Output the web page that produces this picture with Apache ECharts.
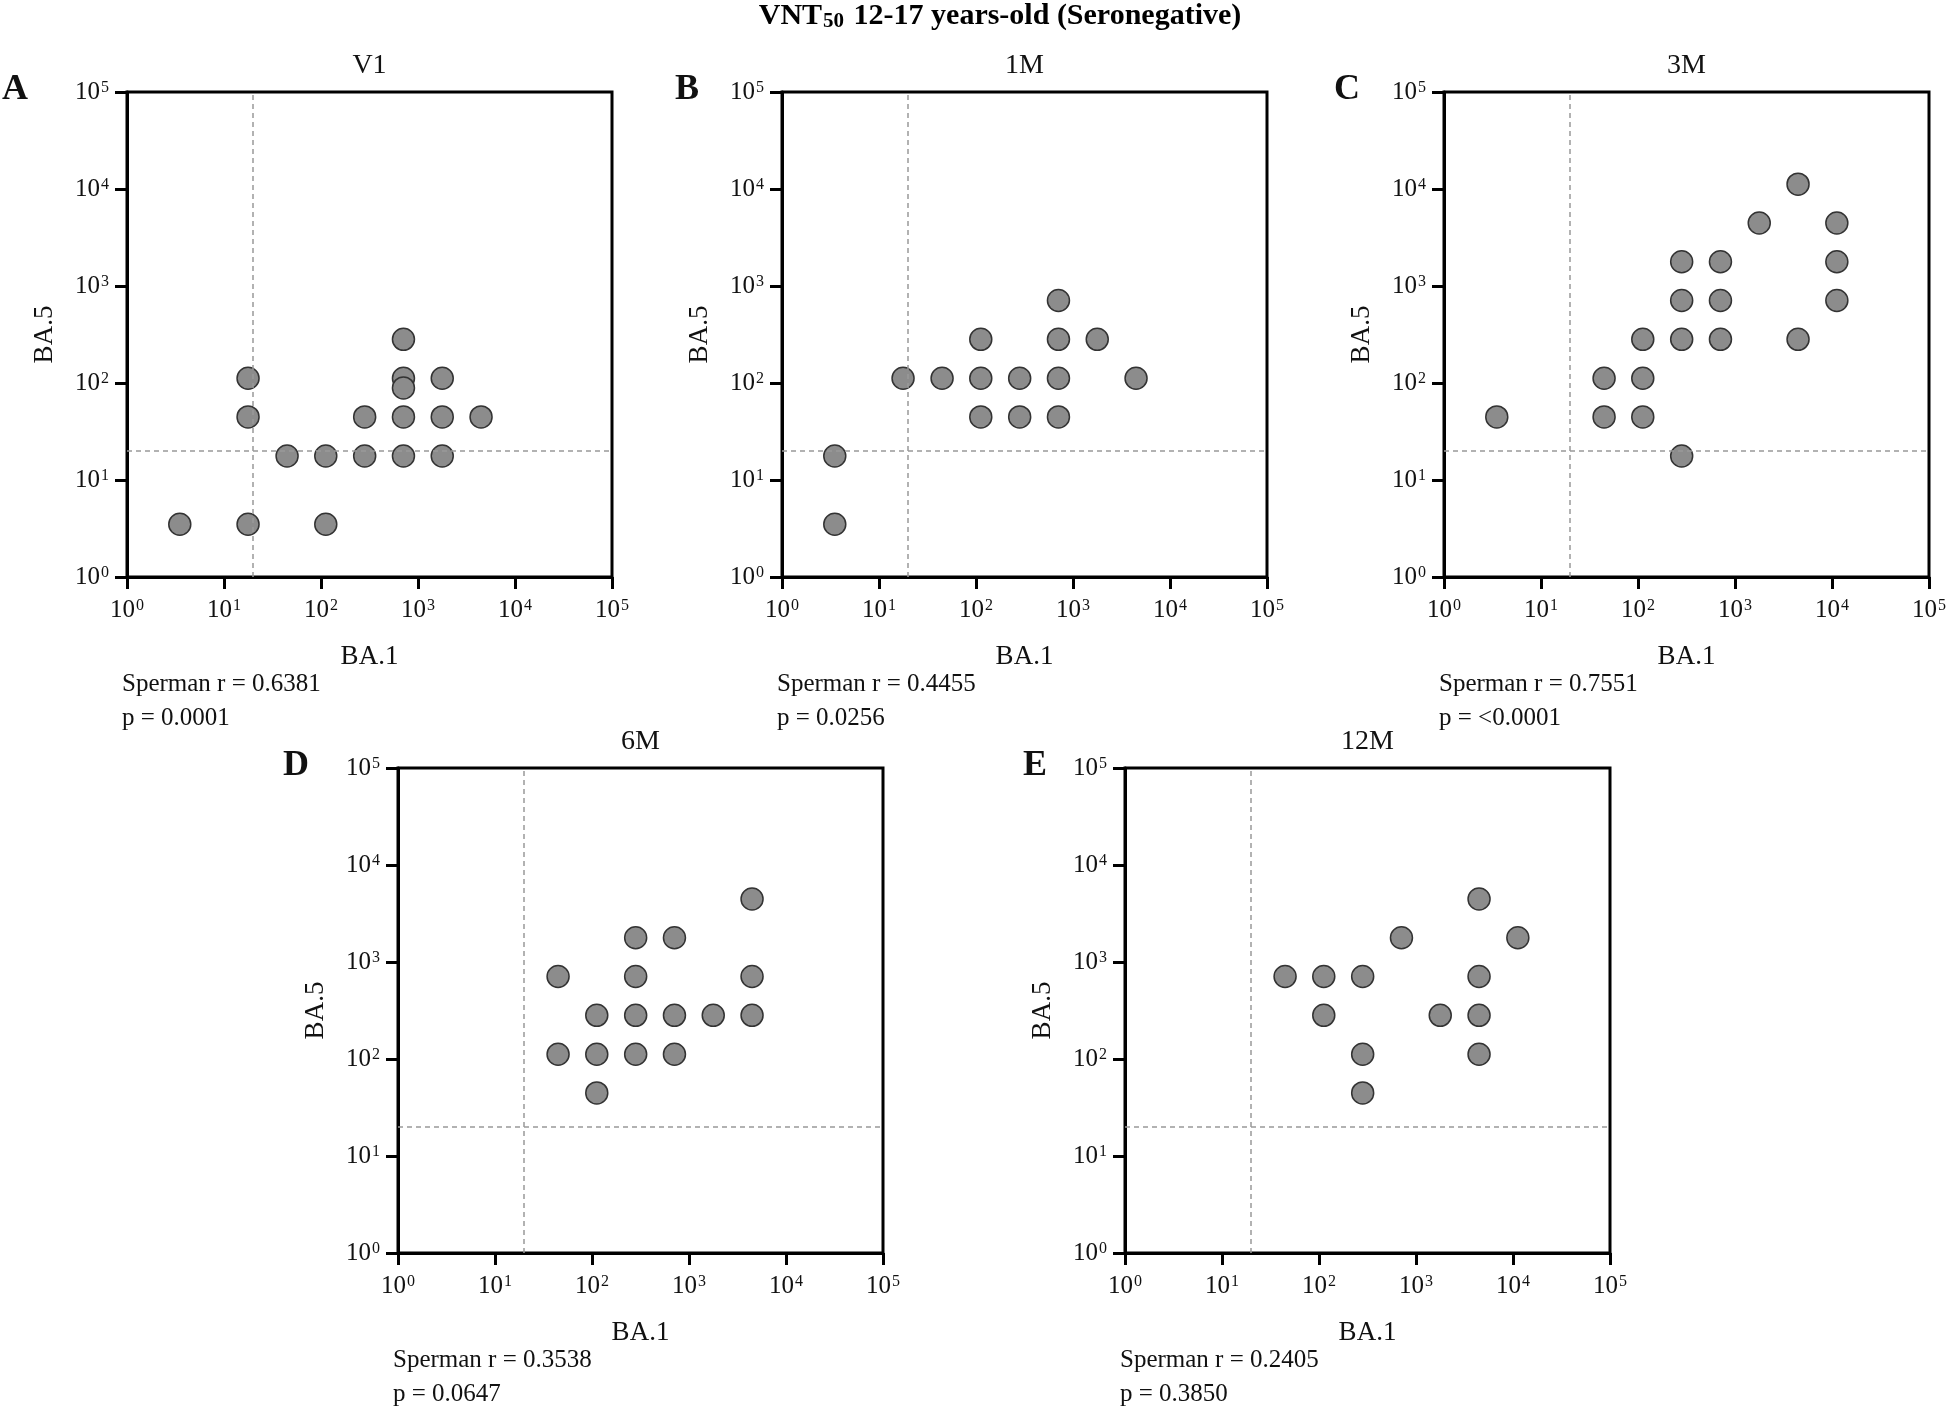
<!DOCTYPE html>
<html><head><meta charset="utf-8">
<script src="https://cdn.jsdelivr.net/npm/echarts@6/dist/echarts.min.js"></script>
<style>html,body{margin:0;padding:0;background:#fff}#c{width:1949px;height:1407px}</style>
</head><body><div id="c"></div>
<script>
// ---- data ----
const panelNames = ['V1', '1M', '3M', '6M', '12M'];
const panelLetters = ['A', 'B', 'C', 'D', 'E'];
const spearmanR = ['0.6381', '0.4455', '0.7551', '0.3538', '0.2405'];
const pValues = ['0.0001', '0.0256', '<0.0001', '0.0647', '0.3850'];
const tickExponents = [0, 1, 2, 3, 4, 5];
const lodValue = 20;

// BA.1 (x) and BA.5 (y) titers per visit
const v1BA1 = [3.5, 17.7, 112, 44.7, 112, 282, 708, 1778, 17.7, 282, 708, 1778, 4467, 17.7, 708, 1778, 708, 708];
const v1BA5 = [3.5, 3.5, 3.5, 17.7, 17.7, 17.7, 17.7, 17.7, 44.7, 44.7, 44.7, 44.7, 44.7, 112, 112, 112, 89, 282];

const m1BA1 = [3.5, 3.5, 17.7, 44.7, 112, 282, 708, 4467, 112, 282, 708, 112, 708, 1778, 708];
const m1BA5 = [3.5, 17.7, 112, 112, 112, 112, 112, 112, 44.7, 44.7, 44.7, 282, 282, 282, 708];

const m3BA1 = [3.5, 44.7, 112, 44.7, 112, 112, 282, 708, 4467, 282, 708, 11220, 282, 708, 11220, 1778, 11220, 4467, 282];
const m3BA5 = [44.7, 44.7, 44.7, 112, 112, 282, 282, 282, 282, 708, 708, 708, 1778, 1778, 1778, 4467, 4467, 11220, 17.7];

const m6BA1 = [4467, 282, 708, 44.7, 282, 4467, 112, 282, 708, 1778, 4467, 44.7, 112, 282, 708, 112];
const m6BA5 = [4467, 1778, 1778, 708, 708, 708, 282, 282, 282, 282, 282, 112, 112, 112, 112, 44.7];

const m12BA1 = [4467, 708, 11220, 44.7, 112, 282, 4467, 112, 1778, 4467, 282, 4467, 282];
const m12BA5 = [4467, 1778, 1778, 708, 708, 708, 708, 282, 282, 282, 112, 112, 44.7];

const panelX = [v1BA1, m1BA1, m3BA1, m6BA1, m12BA1];
const panelY = [v1BA5, m1BA5, m3BA5, m6BA5, m12BA5];

// ---- layout ----
const FONT = '"Liberation Serif", "DejaVu Serif", serif';
const SIZE = 485;
const pos = [[127, 92], [782, 92], [1444, 92], [398, 768], [1125, 768]];
const letterX = [15, 687, 1347, 296, 1035];

const tickRich = {
  b: { fontSize: 25, fontFamily: FONT, color: '#111' },
  s: { fontSize: 16, fontFamily: FONT, color: '#111', verticalAlign: 'top', padding: [0, 0, 0, 1] }
};
const fmt = v => '{b|10}{s|' + Math.round(Math.log10(v)) + '}';

const grids = [], xAxes = [], yAxes = [], series = [], graphics = [];
pos.forEach((p, i) => {
  grids.push({ left: p[0], top: p[1], width: SIZE, height: SIZE, show: true, borderColor: '#000', borderWidth: 3, containLabel: false });
  const axisCommon = {
    type: 'log', logBase: 10, min: Math.pow(10, tickExponents[0]), max: Math.pow(10, tickExponents[tickExponents.length - 1]),
    gridIndex: i,
    axisLine: { show: true, onZero: false, lineStyle: { color: '#000', width: 3 } },
    axisTick: { show: true, inside: false, length: 12, lineStyle: { color: '#000', width: 3 } },
    minorTick: { show: false },
    splitLine: { show: false },
    nameTextStyle: { fontFamily: FONT, fontSize: 27, color: '#111' },
    nameLocation: 'middle'
  };
  xAxes.push(Object.assign({}, axisCommon, {
    name: 'BA.1', nameGap: 66,
    axisLabel: { formatter: fmt, rich: tickRich, fontSize: 25, fontFamily: FONT, margin: 21 }
  }));
  yAxes.push(Object.assign({}, axisCommon, {
    name: 'BA.5', nameGap: 69, nameRotate: 90,
    axisLabel: { formatter: fmt, rich: tickRich, fontSize: 25, fontFamily: FONT, margin: 18 }
  }));
  series.push({
    type: 'scatter', xAxisIndex: i, yAxisIndex: i,
    data: panelX[i].map((x, k) => [x, panelY[i][k]]),
    symbol: 'circle', symbolSize: 22,
    itemStyle: { color: '#8c8c8c', borderColor: '#333', borderWidth: 1.5, opacity: 1 },
    animation: false,
    markLine: {
      silent: true, symbol: 'none', animation: false,
      label: { show: false },
      lineStyle: { type: [5, 4], color: '#999', width: 1.5 },
      data: [{ xAxis: lodValue }, { yAxis: lodValue }]
    }
  });
  const cx = p[0] + SIZE / 2;
  graphics.push({ type: 'text', x: cx, y: p[1] - 26, style: { text: panelNames[i], font: '28px ' + FONT, fill: '#111', textAlign: 'center', textVerticalAlign: 'middle' } });
  graphics.push({ type: 'text', x: letterX[i], y: p[1] - 2, style: { text: panelLetters[i], font: 'bold 36px ' + FONT, fill: '#111', textAlign: 'center', textVerticalAlign: 'middle' } });
  graphics.push({ type: 'text', x: p[0] - 5, y: p[1] + 592, style: { text: 'Sperman r = ' + spearmanR[i], font: '25px ' + FONT, fill: '#111', textAlign: 'left', textVerticalAlign: 'middle' } });
  graphics.push({ type: 'text', x: p[0] - 5, y: p[1] + 626, style: { text: 'p = ' + pValues[i], font: '25px ' + FONT, fill: '#111', textAlign: 'left', textVerticalAlign: 'middle' } });
});

graphics.push({
  type: 'text', x: 1000, y: 16,
  style: {
    text: '{t|VNT}{sub|50}{t| 12-17 years-old (Seronegative)}',
    textAlign: 'center', textVerticalAlign: 'middle',
    rich: {
      t: { fontFamily: FONT, fontWeight: 'bold', fontSize: 30, color: '#111' },
      sub: { fontFamily: FONT, fontWeight: 'bold', fontSize: 21, color: '#111', verticalAlign: 'bottom', padding: [12, 2, 0, 1] }
    }
  }
});

const chart = echarts.init(document.getElementById('c'), null, { renderer: 'canvas' });
chart.setOption({
  backgroundColor: '#fff',
  animation: false,
  grid: grids, xAxis: xAxes, yAxis: yAxes, series: series, graphic: graphics
});
</script></body></html>
